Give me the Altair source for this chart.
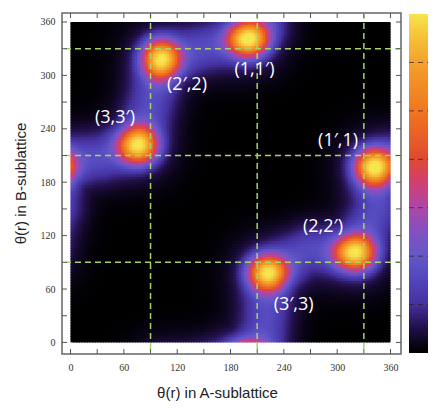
import altair as alt
import numpy as np
import pandas as pd

# ---------------- data ----------------
peak_names = ["(1,1′)", "(2′,2)", "(3,3′)", "(1′,1)", "(2,2′)", "(3′,3)"]
peak_x = [200, 102, 76, 342, 320, 222]
peak_y = [341, 318, 222, 197, 101, 78]
peak_height = [10.5, 10.2, 10.2, 10.5, 10.2, 10.2]
peak_width_x = [23, 21, 22, 22, 23, 22]
peak_width_y = [20, 22, 21, 21, 20, 20]
halo_height = 1.2
halo_width = 30.0

label_x = [207, 131, 50, 301, 284, 251]
label_y = [306, 289, 252, 226, 130, 42]

# ridge (closed loop on the torus, two unwrapped pieces)
ridge_a_x = [76, 90, 102, 150, 200, 217, 220, 222]
ridge_a_y = [222, 268, 318, 331, 341, 360, 385, 438]
ridge_b_x = [222, 268, 320, 345, 342, 360, 395, 436]
ridge_b_y = [78, 105, 101, 150, 197, 204, 208, 222]
ridge_height = 2.7
ridge_width = 19.0

guide_lines = [90, 210, 330]
tick_values = list(range(0, 361, 30))
cbar_ticks = [2, 4, 6, 8, 10, 12]
cbar_labels = [0, 2, 4, 6, 8, 10, 12, 14]
color_stops = [0, 1, 2, 3, 4, 5, 6, 7, 8, 9, 10, 11, 12, 13, 14]
color_hex = ["#000000", "#22104a", "#4632a0", "#5246bc", "#6458c8", "#8450c0",
             "#b046a8", "#d04070", "#e04a30", "#e86226", "#f07820", "#f28c26",
             "#f4a22e", "#f5c238", "#f8e650"]

# ---------------- field built from the peaks and ridge ----------------
step = 3.0
centers = np.arange(step / 2, 360, step)
GX, GY = np.meshgrid(centers, centers)


def seg_dist(px, py, ax, ay, bx, by):
    vx, vy = bx - ax, by - ay
    t = ((px - ax) * vx + (py - ay) * vy) / (vx * vx + vy * vy)
    t = np.clip(t, 0, 1)
    return np.hypot(px - (ax + t * vx), py - (ay + t * vy))


dmin = np.full(GX.shape, 1e9)
for xs, ys in [(ridge_a_x, ridge_a_y), (ridge_b_x, ridge_b_y)]:
    for i in range(len(xs) - 1):
        for sx in (-360, 0, 360):
            for sy in (-360, 0, 360):
                d = seg_dist(GX + sx, GY + sy, xs[i], ys[i], xs[i + 1], ys[i + 1])
                dmin = np.minimum(dmin, d)
field = ridge_height * np.exp(-dmin ** 2 / (2 * ridge_width ** 2))
for px, py, a, wx, wy in zip(peak_x, peak_y, peak_height, peak_width_x, peak_width_y):
    dx = (GX - px + 180) % 360 - 180
    dy = (GY - py + 180) % 360 - 180
    r = np.sqrt((dx / wx) ** 2 + (dy / wy) ** 2)
    field = field + a * np.exp(-r ** 2.5)
    field = field + halo_height * np.exp(-(dx ** 2 + dy ** 2) / (2 * halo_width ** 2))
field = np.clip(field, 0, 14)

heat_df = pd.DataFrame({
    "x": (GX - step / 2).ravel(),
    "y": (GY - step / 2).ravel(),
    "v": np.round(field.ravel(), 2),
})

# ---------------- chart ----------------
W, H = 339, 341
xscale = alt.Scale(domain=[-9.6, 371.8], nice=False, zero=False)
yscale = alt.Scale(domain=[-13.0, 370.1], nice=False, zero=False)
cscale = alt.Scale(domain=color_stops, range=color_hex, interpolate="rgb")

xaxis = alt.Axis(values=tick_values, ticks=False, domain=False, grid=False,
                 labelFont="Liberation Serif", labelFontSize=10, labelColor="#333",
                 labelPadding=8, title="θ(r) in A-sublattice",
                 titleFont="Liberation Sans", titleFontSize=15, titleFontWeight="normal",
                 titleColor="#222", titleX=155, titleY=38, titleBaseline="middle",
                 titleAlign="center")
yaxis = alt.Axis(values=tick_values, ticks=False, domain=False, grid=False,
                 labelFont="Liberation Serif", labelFontSize=10, labelColor="#333",
                 labelPadding=7, title="θ(r) in B-sublattice",
                 titleFont="Liberation Sans", titleFontSize=15, titleFontWeight="normal",
                 titleColor="#222", titleX=-42, titleY=170, titleBaseline="middle",
                 titleAlign="center")

heat = alt.Chart(heat_df).transform_calculate(
    x2="min(datum.x + 4.6, 360)", y2="min(datum.y + 4.6, 360)"
).mark_rect(strokeWidth=0).encode(
    x=alt.X("x:Q", scale=xscale, axis=xaxis),
    x2="x2:Q",
    y=alt.Y("y:Q", scale=yscale, axis=yaxis),
    y2="y2:Q",
    color=alt.Color("v:Q", scale=cscale, legend=None),
)

gdf = pd.DataFrame({"g": guide_lines})
vlines = alt.Chart(gdf).mark_rule(color="#a6d468", strokeDash=[6, 4], strokeWidth=1.5).encode(
    x=alt.X("g:Q", scale=xscale))
hlines = alt.Chart(gdf).mark_rule(color="#a6d468", strokeDash=[6, 4], strokeWidth=1.5).encode(
    y=alt.Y("g:Q", scale=yscale))

tdf = pd.DataFrame({"t": tick_values})
tick_style = dict(color="#555", strokeWidth=1)
t_bottom = alt.Chart(tdf).mark_rule(**tick_style).encode(
    x=alt.X("t:Q", scale=xscale), y=alt.value(H), y2=alt.value(H - 5))
t_top = alt.Chart(tdf).mark_rule(**tick_style).encode(
    x=alt.X("t:Q", scale=xscale), y=alt.value(0), y2=alt.value(5))
t_left = alt.Chart(tdf).mark_rule(**tick_style).encode(
    y=alt.Y("t:Q", scale=yscale), x=alt.value(0), x2=alt.value(5))
t_right = alt.Chart(tdf).mark_rule(**tick_style).encode(
    y=alt.Y("t:Q", scale=yscale), x=alt.value(W), x2=alt.value(W - 5))

ldf = pd.DataFrame({"name": peak_names, "lx": label_x, "ly": label_y})
labels = alt.Chart(ldf).mark_text(color="white", font="Open Sans", fontSize=18).encode(
    x=alt.X("lx:Q", scale=xscale), y=alt.Y("ly:Q", scale=yscale), text="name:N")

main = alt.layer(heat, vlines, hlines, t_bottom, t_top, t_left, t_right, labels)

# colour bar
cb_vals = np.arange(0, 14, 0.1)
cb_df = pd.DataFrame({"c0": np.round(cb_vals, 2), "c1": np.round(np.minimum(cb_vals + 0.2, 14), 2)})
cb_y = alt.Scale(domain=[0, 14], range=[340, 1], nice=False, zero=False)
cb_axis = alt.Axis(orient="right", values=cbar_labels, offset=27, ticks=False, domain=False,
                   grid=False, labelPadding=5, title=None, labelFont="Liberation Serif",
                   labelFontSize=10, labelColor="#333")
cbar = alt.Chart(cb_df).mark_rect(strokeWidth=0).encode(
    x=alt.value(347), x2=alt.value(366),
    y=alt.Y("c0:Q", scale=cb_y, axis=cb_axis), y2="c1:Q",
    color=alt.Color("c0:Q", scale=cscale, legend=None))
cdash = alt.Chart(pd.DataFrame({"t": cbar_ticks})).mark_rule(
    color="#3a1a1a", strokeDash=[5, 4], strokeWidth=1, opacity=0.7).encode(
    x=alt.value(347), x2=alt.value(366), y=alt.Y("t:Q", scale=cb_y, axis=None))
cb_layer = alt.layer(cbar, cdash)

chart = alt.layer(main, cb_layer).resolve_scale(
    y="independent", x="independent"
).properties(
    width=W, height=H,
    autosize=alt.AutoSizeParams(type="none"),
    padding={"left": 54, "top": 5, "right": 32, "bottom": 47},
).configure_view(stroke="#666", strokeWidth=1.5)

chart.save("out.html", embed_options={"renderer": "svg", "actions": False})
